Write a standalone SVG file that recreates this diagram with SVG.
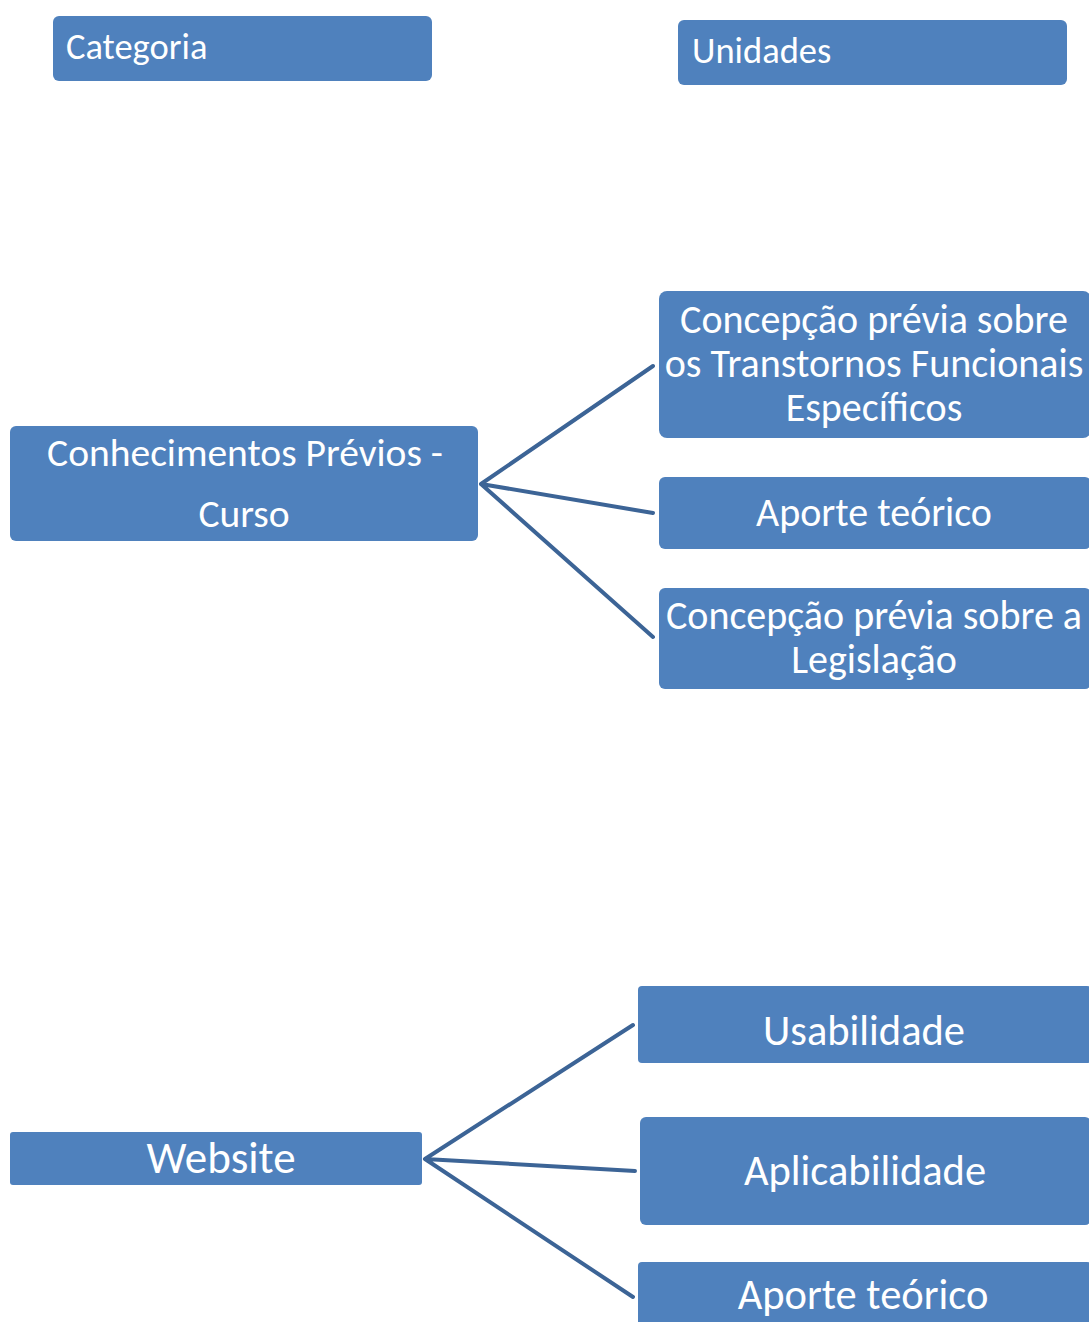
<svg xmlns="http://www.w3.org/2000/svg" width="1089" height="1322" viewBox="0 0 1089 1322">
<style>
.box{fill:#4f81bd;}
.t{fill:#ffffff;font-family:Carlito,Lato,"Open Sans",sans-serif;}
.c{text-anchor:middle;}
.ln{stroke:#3c6496;stroke-width:4;fill:none;stroke-linecap:round;}
</style>
<rect width="1089" height="1322" fill="#ffffff"/>
<g id="categoria"><rect class="box" x="53" y="16" width="379" height="65" rx="6"/><text class="t" x="66" y="59" font-size="36.5">Categoria</text></g>
<g id="unidades"><rect class="box" x="678" y="20" width="389" height="65" rx="6"/><text class="t" x="692" y="63" font-size="36.5">Unidades</text></g>
<g id="conhecimentos"><rect class="box" x="10" y="426" width="468" height="115" rx="6"/><text class="t c" x="245" y="466" font-size="39.5">Conhecimentos Prévios -</text><text class="t c" x="244" y="527" font-size="39.5">Curso</text></g>
<g id="concepcao-tfe"><rect class="box" x="659" y="291" width="432" height="147" rx="8"/><text class="t c" font-size="40"><tspan x="874" y="333">Concepção prévia sobre</tspan><tspan x="874" y="377">os Transtornos Funcionais</tspan><tspan x="874" y="421">Específicos</tspan></text></g>
<g id="aporte1"><rect class="box" x="659" y="477" width="432" height="72" rx="6"/><text class="t c" x="874" y="526" font-size="40">Aporte teórico</text></g>
<g id="legislacao"><rect class="box" x="659" y="588" width="432" height="101" rx="6"/><text class="t c" font-size="40"><tspan x="874" y="629">Concepção prévia sobre a</tspan><tspan x="874" y="673">Legislação</tspan></text></g>
<g id="website"><rect class="box" x="10" y="1132" width="412" height="53" rx="3"/><text class="t c" x="221" y="1173" font-size="45">Website</text></g>
<g id="usabilidade"><rect class="box" x="638" y="986" width="453" height="77" rx="4"/><text class="t c" x="864" y="1045" font-size="42.5">Usabilidade</text></g>
<g id="aplicabilidade"><rect class="box" x="640" y="1117" width="451" height="108" rx="6"/><text class="t c" x="865" y="1185" font-size="42.5">Aplicabilidade</text></g>
<g id="aporte2"><rect class="box" x="638" y="1262" width="453" height="70" rx="4"/><text class="t c" x="863" y="1309" font-size="42.5">Aporte teórico</text></g>
<g id="connectors">
<path class="ln" d="M481 484 L653 366 M481 484 L653 513 M481 484 L653 637"/>
<path class="ln" d="M425 1159 L633 1025 M425 1159 L635 1171 M425 1159 L633 1297"/>
</g>
</svg>
